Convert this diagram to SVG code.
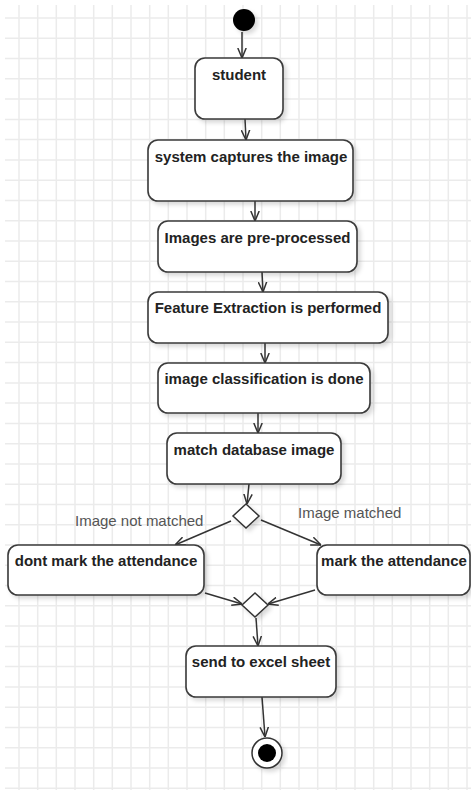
<svg xmlns="http://www.w3.org/2000/svg" width="471" height="790" viewBox="0 0 471 790">
<style>
.grid{stroke:#ebebeb;stroke-width:1.5;fill:none}
.box{fill:#fff;stroke:#3a3a3a;stroke-width:1.6;filter:url(#sh)}
.t{font-family:"Liberation Sans",Arial,sans-serif;font-weight:bold;font-size:15px;fill:#222;text-anchor:middle}
.lbl{font-family:"Liberation Sans",Arial,sans-serif;font-size:15px;fill:#555}
.c{stroke:#333;stroke-width:1.5;fill:none;marker-end:url(#ah)}
.dia{fill:#fff;stroke:#333;stroke-width:1.5}
</style>
<defs>
<filter id="sh" x="-10%" y="-10%" width="130%" height="140%">
<feDropShadow dx="3" dy="3" stdDeviation="2" flood-color="#000" flood-opacity="0.15"/>
</filter>
<marker id="ah" viewBox="0 0 10 10" refX="10" refY="5" markerWidth="10" markerHeight="10" markerUnits="userSpaceOnUse" orient="auto">
<path d="M0,0.8 L10,5 L0,9.2" fill="none" stroke="#333" stroke-width="1.5"/>
</marker>
</defs>
<rect width="471" height="790" fill="#fff"/>
<g id="grid">
<path class="grid" d="M19,5V790M37.7,5V790M56.3,5V790M75,5V790M93.7,5V790M112.3,5V790M131,5V790M149.7,5V790M168.3,5V790M187,5V790M205.7,5V790M224.3,5V790M243,5V790M261.7,5V790M280.3,5V790M299,5V790M317.7,5V790M336.3,5V790M355,5V790M373.7,5V790M392.3,5V790M411,5V790M429.7,5V790M448.3,5V790M467,5V790"/>
<path class="grid" d="M5,18H471M5,38.3H471M5,58.5H471M5,78.8H471M5,99.1H471M5,119.4H471M5,139.6H471M5,159.9H471M5,180.2H471M5,200.4H471M5,220.7H471M5,241H471M5,261.2H471M5,281.5H471M5,301.8H471M5,322.1H471M5,342.3H471M5,362.6H471M5,382.9H471M5,403.1H471M5,423.4H471M5,443.7H471M5,463.9H471M5,484.2H471M5,504.5H471M5,524.8H471M5,545H471M5,565.3H471M5,585.6H471M5,605.8H471M5,626.1H471M5,646.4H471M5,666.6H471M5,686.9H471M5,707.2H471M5,727.5H471M5,747.7H471M5,768H471M5,788.3H471"/>
</g>
<g id="connectors">
<path class="c" d="M242,32 L242,58"/>
<path class="c" d="M245,119 L246,140"/>
<path class="c" d="M255,201 L255,221"/>
<path class="c" d="M262,272 L263,292"/>
<path class="c" d="M265,343 L265,363"/>
<path class="c" d="M258,413 L258,433"/>
<path class="c" d="M249,484 L247,504"/>
<path class="c" d="M231,521 L175,545"/>
<path class="c" d="M261,520 L321,545"/>
<path class="c" d="M205,593 L242,604"/>
<path class="c" d="M315,590 L268,604"/>
<path class="c" d="M256,618 L258,646"/>
<path class="c" d="M262,697 L265,737"/>
</g>
<g id="start"><circle cx="244" cy="20" r="11" fill="#000" filter="url(#sh)"/></g>
<g id="n1"><rect class="box" x="195" y="58" width="88" height="61" rx="10"/><text class="t" x="239" y="80">student</text></g>
<g id="n2"><rect class="box" x="148" y="140" width="205" height="61" rx="10"/><text class="t" x="251" y="162">system captures the image</text></g>
<g id="n3"><rect class="box" x="158" y="221" width="199" height="51" rx="10"/><text class="t" x="257.5" y="243">Images are pre-processed</text></g>
<g id="n4"><rect class="box" x="148" y="292" width="240" height="51" rx="10"/><text class="t" x="268" y="313">Feature Extraction is performed</text></g>
<g id="n5"><rect class="box" x="158" y="363" width="212" height="50" rx="10"/><text class="t" x="264" y="384">image classification is done</text></g>
<g id="n6"><rect class="box" x="167" y="433" width="174" height="51" rx="10"/><text class="t" x="254" y="455">match database image</text></g>
<g id="d1"><path class="dia" d="M246,504 L259,516 L246,528 L233,516 Z" filter="url(#sh)"/></g>
<g id="l1"><text class="lbl" x="75" y="526">Image not matched</text></g>
<g id="l2"><text class="lbl" x="298" y="518">Image matched</text></g>
<g id="n7"><rect class="box" x="8" y="545" width="196" height="50" rx="10"/><text class="t" x="106" y="566">dont mark the attendance</text></g>
<g id="n8"><rect class="box" x="317" y="545" width="153" height="50" rx="10"/><text class="t" x="394" y="566">mark the attendance</text></g>
<g id="d2"><path class="dia" d="M255,593 L268,605 L255,617 L242,605 Z" filter="url(#sh)"/></g>
<g id="n9"><rect class="box" x="186" y="646" width="150" height="51" rx="10"/><text class="t" x="261" y="667">send to excel sheet</text></g>
<g id="end"><circle cx="267" cy="753" r="15" fill="#fff" stroke="#333" stroke-width="1.5" filter="url(#sh)"/><circle cx="267" cy="753" r="9" fill="#000"/></g>
</svg>
